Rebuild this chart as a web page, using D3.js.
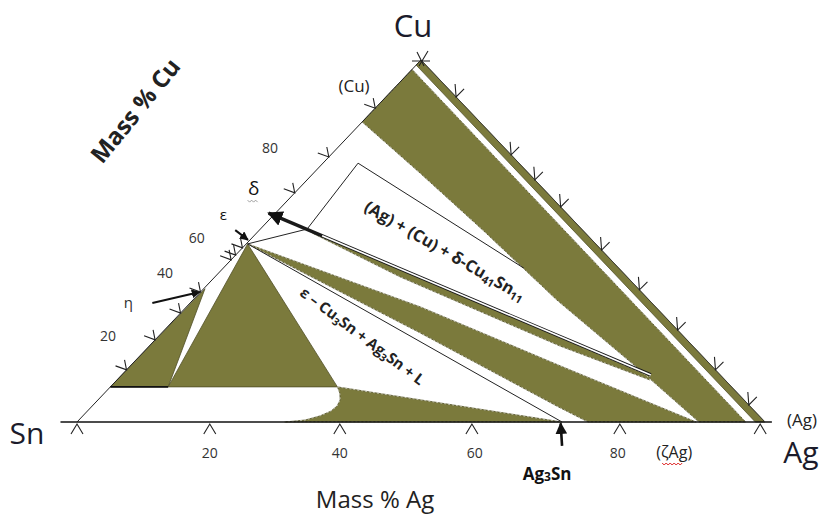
<!DOCTYPE html>
<html>
<head>
<meta charset="utf-8">
<script src="https://cdn.jsdelivr.net/npm/d3@7"></script>
<style>
body { margin: 0; background: #fff; }
text { font-family: "Open Sans", "DejaVu Sans", sans-serif; }
</style>
</head>
<body>
<script>
var width = 827;
var height = 517;
var green = '#7b7a3c';

// compositions as [mass % Ag, mass % Cu], Sn is the rest
var E = [0.2, 49.2];               // epsilon (Cu3Sn) point
var AG3SN = [70.5, 0];

var agStrip = [[0, 100], [100, 0], [98.6, 0], [0, 98.6]];
var cuAgBand = [[0, 97.4], [97.2, 0], [90.4, 0], [74.6, 14.4], [52.9, 33.7], [32.5, 53.0], [15.45, 68.8], [0, 82.9]];
var deltaBand = [[6.8, 53.3], [76.9, 12.7], [77.5, 11.6], [59.7, 21.0], [26.9, 40.1], [8.1, 52.2]];
var epsBand = [E, [34.0, 31.8], [62.5, 15.5], [90.0, 0], [74.3, 0], [68.3, 3.9], [37.6, 24.6]];
var etaTri = [[0.2, 36.8], [0, 9.7], [8.4, 9.7]];
var epsTri = [E, [8.4, 9.7], [33.0, 9.7]];
var liqWedge = [[33.0, 9.7], AG3SN, [30.2, 0], [32.9, 0.55], [34.5, 1.7], [35.4, 3.0], [35.6, 4.4], [35.2, 6.1], [34.2, 8.0]];

var deltaOutline = [E, [6.8, 53.3], [5.1, 71.5], [43.7, 42.5]];
var epsLiqLine = [E, AG3SN];
var liqLine = [[0, 9.7], [8.4, 9.7]];
var deltaArrow = [[76.9, 13.0], [-1.0, 57.7]];
var epsArrow = [[-3.5, 53.0], [-0.3, 50.3]];
var etaArrow = [[-5.5, 32.9], [-0.1, 35.9]];
var ag3snArrow = [[73.8, -6.6], [70.5, -0.4]];

// tick marks (as drawn on the sketch)
var agTicks = [0, 19.3, 38.2, 57.4, 78.9, 99.3];
var agTickLabels = [[19.3, '20'], [38.2, '40'], [57.8, '60'], [78.6, '80']];
var cuTicksLeft = [14.4, 22.7, 30.1, 35.9, 44.8, 46.1, 48.1, 63.3, 73.2, 86.7];
var cuTickLabels = [[-9.8, 75.7, '80'], [-8.0, 50.8, '60'], [-7.8, 41.2, '40'], [-7.4, 23.8, '20']];
var cuTicksRight = [89.8, 73.8, 66.9, 59.4, 47.5, 36.5, 25.4, 14.4, 4.7];

var xScale = d3.scaleLinear().domain([0, 100]).range([77, 765]);
var yScale = d3.scaleLinear().domain([0, 100]).range([422, 60]);
function px(d) { return xScale(d[0] + d[1] / 2); }
function py(d) { return yScale(d[1]); }

var line = d3.line().x(px).y(py);
var area = d3.line().x(px).y(py).curve(d3.curveLinearClosed);

var svg = d3.select('body').append('svg')
    .attr('width', width)
    .attr('height', height);

svg.append('defs').append('marker')
    .attr('id', 'head')
    .attr('viewBox', '0 0 10 10')
    .attr('refX', 9).attr('refY', 5)
    .attr('markerWidth', 4.5).attr('markerHeight', 4.5)
    .attr('markerUnits', 'strokeWidth')
    .attr('orient', 'auto')
    .append('path').attr('d', 'M0,0L10,5L0,10z').attr('fill', '#111');

// green two-phase fields
svg.selectAll('path.field')
    .data([agStrip, cuAgBand, deltaBand, epsBand, etaTri, epsTri, liqWedge])
    .join('path')
    .attr('class', 'field')
    .attr('d', area)
    .attr('fill', green)
    .attr('stroke', '#4f4e26')
    .attr('stroke-width', 0.8);
// the sketch's edges look dotted
svg.selectAll('path.edge')
    .data([cuAgBand, deltaBand, epsBand, liqWedge])
    .join('path')
    .attr('class', 'edge')
    .attr('d', area)
    .attr('fill', 'none')
    .attr('stroke', '#e8e8d8')
    .attr('stroke-width', 0.7)
    .attr('stroke-dasharray', '2,2');

// triangle edges
svg.append('path').attr('d', line([[-2.4, 0], [101, 0]]))
    .attr('stroke', '#111').attr('stroke-width', 1.6).attr('fill', 'none');
svg.append('path').attr('d', line([[0, 0], [0, 100]]))
    .attr('stroke', '#222').attr('stroke-width', 1).attr('fill', 'none');
svg.append('path').attr('d', line([[0, 100], [100, 0]]))
    .attr('stroke', '#333').attr('stroke-width', 0.8).attr('fill', 'none');

// phase boundaries
[deltaOutline, epsLiqLine].forEach(function (l) {
    svg.append('path').attr('d', line(l))
        .attr('fill', 'none').attr('stroke', '#222').attr('stroke-width', 1);
});
svg.append('path').attr('d', line(liqLine))
    .attr('fill', 'none').attr('stroke', '#111').attr('stroke-width', 1.6);

// delta double line with arrow: solid near the head, doubled further out
var splitAt = d3.interpolate(deltaArrow[0], deltaArrow[1])(0.86);
svg.append('path').attr('d', line(deltaArrow))
    .attr('fill', 'none').attr('stroke', '#1a1a1a').attr('stroke-width', 3.4)
    .attr('marker-end', 'url(#head)');
svg.append('path').attr('d', line([deltaArrow[0], splitAt]))
    .attr('fill', 'none').attr('stroke', '#fff').attr('stroke-width', 1.6);

[epsArrow, etaArrow].forEach(function (l) {
    svg.append('path').attr('d', line(l))
        .attr('fill', 'none').attr('stroke', '#111').attr('stroke-width', 2)
        .attr('marker-end', 'url(#head)');
});
svg.append('path').attr('d', line(ag3snArrow))
    .attr('fill', 'none').attr('stroke', '#111').attr('stroke-width', 2.6)
    .attr('marker-end', 'url(#head)');

// ticks
var ticks = svg.append('g').attr('fill', 'none').attr('stroke', '#222').attr('stroke-width', 1.1);
ticks.selectAll('path.b').data(agTicks).join('path').attr('class', 'b')
    .attr('d', function (v) {
        var x = px([v, 0]), y = py([v, 0]);
        return 'M' + (x - 6) + ',' + (y + 12) + 'L' + x + ',' + (y + 2) + 'L' + (x + 6) + ',' + (y + 12);
    });
ticks.selectAll('path.l').data(cuTicksLeft).join('path').attr('class', 'l')
    .attr('d', function (v) {
        var x = px([0, v]), y = py([0, v]);
        return 'M' + (x - 11) + ',' + (y - 4) + 'L' + x + ',' + y + 'L' + (x - 2) + ',' + (y - 10);
    });
ticks.selectAll('path.r').data(cuTicksRight).join('path').attr('class', 'r')
    .attr('d', function (v) {
        var x = px([100 - v, v]), y = py([100 - v, v]);
        return 'M' + (x - 1) + ',' + (y - 13) + 'L' + x + ',' + y + 'L' + (x + 8) + ',' + (y - 8);
    });
var ax = px([0, 100]), ay = py([0, 100]);
ticks.append('path').attr('d', 'M' + (ax - 9) + ',' + (ay + 1) + 'L' + (ax + 9) + ',' + (ay + 1) +
    'M' + (ax - 4) + ',' + (ay - 8) + 'L' + (ax + 3) + ',' + (ay + 6) + 'M' + (ax + 7) + ',' + (ay - 9) + 'L' + (ax - 2) + ',' + (ay + 6));

// tick labels
svg.selectAll('text.at').data(agTickLabels).join('text').attr('class', 'at')
    .attr('x', function (d) { return px([d[0], 0]); })
    .attr('y', py([0, 0]) + 36)
    .attr('text-anchor', 'middle').attr('font-size', 14).attr('fill', '#333')
    .text(function (d) { return d[1]; });
svg.selectAll('text.ct').data(cuTickLabels).join('text').attr('class', 'ct')
    .attr('x', function (d) { return px(d); })
    .attr('y', function (d) { return py(d) + 5; })
    .attr('text-anchor', 'middle').attr('font-size', 14).attr('fill', '#333')
    .text(function (d) { return d[2]; });

// corner and axis titles
function label(x, y, s, size, opts) {
    opts = opts || {};
    return svg.append('text').attr('x', x).attr('y', y)
        .attr('font-size', size)
        .attr('text-anchor', opts.anchor || 'middle')
        .attr('font-weight', opts.weight || 'normal')
        .attr('fill', opts.fill || '#111')
        .text(s);
}
label(px([0, 100]) - 8, py([0, 100]) - 23, 'Cu', 31, { fill: '#1b1b2b' });
label(px([0, 0]) - 50, py([0, 0]) + 22, 'Sn', 30, { fill: '#1b1b2b' });
label(px([100, 0]) + 36, py([0, 0]) + 41, 'Ag', 30, { fill: '#1b1b2b' });
label(px([100, 0]) + 37, py([0, 0]) + 4, '(Ag)', 17, { fill: '#222' });
label(px([0, 100]) - 67, py([0, 100]) + 32, '(Cu)', 17, { fill: '#222' });
label(px([0, 0]) + 298, py([0, 0]) + 86, 'Mass % Ag', 24, { fill: '#222' });

label(px([86.8, 0]), py([0, 0]) + 36, '(ζAg)', 16, { fill: '#222' });
var zx = px([86.8, 0]) - 12;
var wave = 'M' + zx + ',' + (py([0, 0]) + 41);
for (var i = 0; i < 10; i++) {
    wave += 'l2,' + (i % 2 ? -2 : 2);
}
svg.append('path').attr('d', wave).attr('fill', 'none').attr('stroke', '#d22').attr('stroke-width', 1);

var a3 = label(px(ag3snArrow[0]) - 15, py(ag3snArrow[0]) + 34, '', 17, { weight: 'bold' });
a3.append('tspan').text('Ag');
a3.append('tspan').attr('font-size', 12).attr('dy', 1).text('3');
a3.append('tspan').attr('dy', -1).text('Sn');

svg.append('text')
    .attr('transform', 'translate(142,116) rotate(-51)')
    .attr('text-anchor', 'middle').attr('font-size', 24).attr('font-weight', 'bold').attr('fill', '#222')
    .text('Mass % Cu');

// phase symbols
label(px(epsArrow[0]) - 12, py(epsArrow[0]) - 10, 'ε', 15);
label(px(deltaArrow[1]) - 15, py(deltaArrow[1]) - 18, 'δ', 19);
svg.append('path').attr('d', 'M' + (px(deltaArrow[1]) - 21) + ',' + (py(deltaArrow[1]) - 13) + 'l2,2l2,-2l2,2l2,-2l2,2')
    .attr('fill', 'none').attr('stroke', '#888').attr('stroke-width', 0.8);
label(px(etaArrow[0]) - 24, py(etaArrow[0]) + 5, 'η', 15, { fill: '#333' });

// region labels
var r1 = svg.append('text')
    .attr('transform', 'translate(' + px([30.1, 45.9]) + ',' + py([30.1, 45.9]) + ') rotate(30)')
    .attr('text-anchor', 'middle').attr('font-size', 16.5).attr('font-weight', 'bold').attr('fill', '#222');
r1.append('tspan').text('(Ag) + (Cu) + δ-Cu');
r1.append('tspan').attr('font-size', 11).attr('dy', 3).text('41');
r1.append('tspan').attr('dy', -3).text('Sn');
r1.append('tspan').attr('font-size', 11).attr('dy', 3).text('11');

var r2 = svg.append('text')
    .attr('transform', 'translate(' + px([29.7, 22.6]) + ',' + py([29.7, 22.6]) + ') rotate(37)')
    .attr('text-anchor', 'middle').attr('font-size', 15).attr('font-weight', 'bold').attr('fill', '#222');
r2.append('tspan').text('ε – Cu');
r2.append('tspan').attr('font-size', 10.5).attr('dy', 3).text('3');
r2.append('tspan').attr('dy', -3).text('Sn + Ag');
r2.append('tspan').attr('font-size', 10.5).attr('dy', 3).text('3');
r2.append('tspan').attr('dy', -3).text('Sn + L');
</script>
</body>
</html>
